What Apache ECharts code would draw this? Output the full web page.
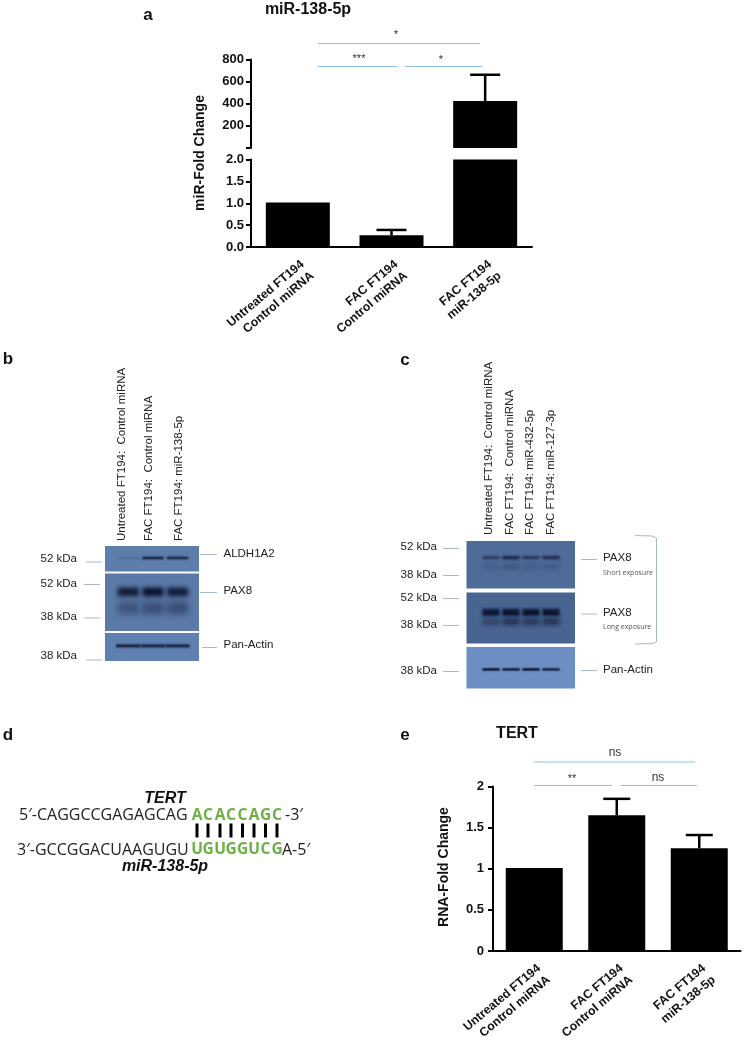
<!DOCTYPE html>
<html>
<head>
<meta charset="utf-8">
<title>miR-138-5p figure</title>
<style>
  html, body { margin: 0; padding: 0; background: #fff; }
  #chart { width: 744px; height: 1042px; }
</style>
<script src="https://cdn.jsdelivr.net/npm/echarts@6/dist/echarts.min.js"></script>
</head>
<body>
<div id="chart"></div>
<script>
// panel a
const miRCategories = ['Untreated FT194\nControl miRNA', 'FAC FT194\nControl miRNA', 'FAC FT194\nmiR-138-5p'];
const miRMeans = [1.02, 0.27, 425];
const miRErrorTops = [null, 0.39, 662];

// panel e
const tertCategories = ['Untreated FT194\nControl miRNA', 'FAC FT194\nControl miRNA', 'FAC FT194\nmiR-138-5p'];
const tertMeans = [1.01, 1.65, 1.25];
const tertErrorTops = [null, 1.85, 1.41];

// blot band strengths per lane, estimated by eye
const bAldh1a2 = [0.12, 0.95, 0.9];
const bPax8Upper = [0.9, 1, 0.9];
const bPax8Lower = [0.35, 0.42, 0.42];
const bActin = [0.95, 0.9, 0.9];
const cShortUpper = [0.55, 0.8, 0.6, 0.72];
const cShortLower = [0.18, 0.25, 0.2, 0.22];
const cLongUpper = [0.95, 1, 1, 1];
const cLongLower = [0.4, 0.6, 0.55, 0.6];
const cActin = [1, 0.95, 1, 0.9];

const bLanes = ['Untreated FT194:  Control miRNA', 'FAC FT194:  Control miRNA', 'FAC FT194: miR-138-5p'];
const cLanes = ['Untreated FT194:  Control miRNA', 'FAC FT194:  Control miRNA', 'FAC FT194: miR-432-5p', 'FAC FT194: miR-127-3p'];

const SANS = '"Liberation Sans", Arial, sans-serif';
const OPEN = '"Open Sans", sans-serif';
const SIG_BLUE = '#8dbfe3';
const MARK_BLUE = '#a9b8d2';
const OFFSCREEN = 3000;

const grids = [];
const xAxes = [];
const yAxes = [];
const series = [];
const graphics = [];

function text(x, y, str, font, extra) {
  graphics.push({
    type: 'text', x: x, y: y, rotation: (extra && extra.rotation) || 0, z: 5,
    style: {
      text: str, font: font,
      fill: (extra && extra.fill) || '#111',
      align: (extra && extra.align) || 'center',
      verticalAlign: 'middle'
    }
  });
}

function line(x1, y1, x2, y2, color, width) {
  graphics.push({
    type: 'line', z: 4,
    shape: { x1: x1, y1: y1, x2: x2, y2: y2 },
    style: { stroke: color, lineWidth: width || 1 }
  });
}

// T shaped error bar, goes through the same axes as the bars
function errorSeries(gridIndex, means, tops, capHalf) {
  const data = [];
  means.forEach((m, i) => {
    if (tops[i] != null) data.push([i, m, tops[i]]);
  });
  series.push({
    type: 'custom', xAxisIndex: gridIndex, yAxisIndex: gridIndex, z: 3, clip: false,
    data: data,
    renderItem(params, api) {
      const low = api.coord([api.value(0), api.value(1)]);
      const high = api.coord([api.value(0), api.value(2)]);
      const style = { stroke: '#000', lineWidth: 2.5, fill: null };
      return {
        type: 'group',
        children: [
          { type: 'line', shape: { x1: low[0], y1: low[1], x2: high[0], y2: high[1] }, style: style },
          { type: 'line', shape: { x1: high[0] - capHalf, y1: high[1], x2: high[0] + capHalf, y2: high[1] }, style: style }
        ]
      };
    }
  });
}

function barGrid(box, cats, yOpt, showX, labelMargin) {
  const idx = grids.length;
  grids.push(Object.assign({ outerBoundsMode: 'none' }, box));
  xAxes.push({
    gridIndex: idx, type: 'category', data: cats, show: showX,
    axisLine: { lineStyle: { color: '#000', width: 2 } },
    axisTick: { alignWithLabel: true, length: 6, lineStyle: { color: '#000', width: 2 } },
    axisLabel: {
      interval: 0, rotate: 40, margin: labelMargin, color: '#111',
      fontFamily: SANS, fontSize: 12.3, fontWeight: 'bold',
      align: 'right', verticalAlign: 'top', lineHeight: 15
    }
  });
  yAxes.push(Object.assign({
    gridIndex: idx, type: 'value', splitLine: { show: false },
    axisLine: { show: true, lineStyle: { color: '#000', width: 2 } },
    axisTick: { show: true, length: 5, lineStyle: { color: '#000', width: 2 } }
  }, yOpt));
  return idx;
}

// one row of blot bands: only the blurred shadow of an offscreen rect shows,
// so the band has no hard edge
function bandSeries(gridIndex, strengths, row) {
  series.push({
    type: 'custom', xAxisIndex: gridIndex, yAxisIndex: gridIndex, z: 2, silent: true, clip: false,
    data: strengths.map((v, i) => [i, row.y, v]),
    renderItem(params, api) {
      const c = api.coord([api.value(0), api.value(1)]);
      const w = api.size([1, 0])[0] * (row.w || 0.86);
      const col = 'rgba(12,20,48,' + api.value(2) + ')';
      return {
        type: 'rect',
        shape: { x: c[0] - w / 2 - OFFSCREEN, y: c[1] - row.h / 2, width: w, height: row.h },
        style: { fill: '#000', shadowBlur: row.blur, shadowColor: col, shadowOffsetX: OFFSCREEN }
      };
    }
  });
}

function blot(panel, inner, lanes, rows) {
  graphics.push({
    type: 'rect', z: 1,
    shape: { x: panel.x, y: panel.y, width: panel.w, height: panel.h },
    style: { fill: panel.fill }
  });
  const idx = grids.length;
  grids.push({ outerBoundsMode: 'none', left: inner.left, width: inner.width, top: panel.y, height: panel.h, show: false });
  xAxes.push({ gridIndex: idx, type: 'category', data: lanes, show: false });
  yAxes.push({ gridIndex: idx, type: 'value', min: 0, max: 1, inverse: true, show: false });
  rows.forEach(r => bandSeries(idx, r.values, r));
}

// panel a ---------------------------------------------------------
const aUpper = barGrid({ left: 251, width: 281, top: 59.5, height: 88.5 }, miRCategories, {
  min: 0, max: 800, interval: 200,
  axisLabel: { color: '#111', fontFamily: SANS, fontSize: 13, fontWeight: 'bold', margin: 7, formatter: v => (v === 0 ? '' : v) }
}, false, 7);
const aLower = barGrid({ left: 251, width: 281, top: 159.5, height: 87.5 }, miRCategories, {
  min: 0, max: 2, interval: 0.5,
  axisLabel: { color: '#111', fontFamily: SANS, fontSize: 13, fontWeight: 'bold', margin: 7, formatter: v => v.toFixed(1) }
}, true, 10);

series.push({
  type: 'bar', xAxisIndex: aUpper, yAxisIndex: aUpper, barWidth: 64, z: 2,
  itemStyle: { color: '#000' },
  data: miRMeans.map(v => (v > 2 ? v : null))
});
series.push({
  type: 'bar', xAxisIndex: aLower, yAxisIndex: aLower, barWidth: 64, z: 2, clip: true,
  itemStyle: { color: '#000' },
  data: miRMeans
});
errorSeries(aUpper, miRMeans.map(v => (v > 2 ? v : null)), miRErrorTops.map(v => (v > 2 ? v : null)), 15);
errorSeries(aLower, miRMeans.map(v => (v > 2 ? null : v)), miRErrorTops.map(v => (v > 2 ? null : v)), 15);

text(148, 15, 'a', 'bold 17px ' + SANS);
text(308, 9.5, 'miR-138-5p', 'bold 16px ' + SANS);
text(200, 153, 'miR-Fold Change', 'bold 14px ' + SANS, { rotation: Math.PI / 2 });
line(318, 43.5, 480, 43.5, SIG_BLUE);
line(318, 66.5, 397, 66.5, SIG_BLUE);
line(405, 66.5, 482, 66.5, SIG_BLUE);
text(396, 35, '*', '11px ' + SANS, { fill: '#333' });
text(359, 59, '***', '11px ' + SANS, { fill: '#333' });
text(441, 60, '*', '11px ' + SANS, { fill: '#333' });

// panel b ---------------------------------------------------------
text(8, 359, 'b', 'bold 17px ' + SANS);
blot({ x: 105, y: 546, w: 94, h: 25.5, fill: '#5d7dab' }, { left: 116, width: 74 }, bLanes, [
  { y: 0.47, h: 2.5, blur: 2, values: bAldh1a2 }
]);
blot({ x: 105, y: 573.5, w: 94, h: 57.5, fill: '#5b7aa8' }, { left: 116, width: 74 }, bLanes, [
  { y: 0.32, h: 9, blur: 4, values: bPax8Upper },
  { y: 0.6, h: 13, blur: 6, values: bPax8Lower }
]);
blot({ x: 105, y: 633, w: 94, h: 28, fill: '#5f80b0' }, { left: 116, width: 74 }, bLanes, [
  { y: 0.46, h: 3, blur: 2, w: 0.98, values: bActin }
]);
[121.5, 149, 178.5].forEach((x, i) => {
  text(x, 541, bLanes[i], '11.5px ' + SANS, { rotation: Math.PI / 2, align: 'left', fill: '#222' });
});
[[86, 102, 562], [84, 100, 584.5], [84, 100, 618], [86, 102, 660]].forEach(m => {
  line(m[0], m[2], m[1], m[2], MARK_BLUE);
});
text(40.5, 559, '52 kDa', '11.5px ' + SANS, { align: 'left', fill: '#222' });
text(40.5, 583.5, '52 kDa', '11.5px ' + SANS, { align: 'left', fill: '#222' });
text(40.5, 616.5, '38 kDa', '11.5px ' + SANS, { align: 'left', fill: '#222' });
text(40.5, 655.5, '38 kDa', '11.5px ' + SANS, { align: 'left', fill: '#222' });
line(200, 554.5, 217, 554.5, MARK_BLUE);
line(200, 592.5, 217, 592.5, MARK_BLUE);
line(202, 647.5, 217, 647.5, MARK_BLUE);
text(223.5, 554, 'ALDH1A2', '11.5px ' + SANS, { align: 'left', fill: '#222' });
text(223.5, 591, 'PAX8', '11.5px ' + SANS, { align: 'left', fill: '#222' });
text(223.5, 645, 'Pan-Actin', '11.5px ' + SANS, { align: 'left', fill: '#222' });

// panel c ---------------------------------------------------------
text(405, 360, 'c', 'bold 17px ' + SANS);
blot({ x: 466.5, y: 541, w: 108.5, h: 47.5, fill: '#4f6c99' }, { left: 481, width: 80 }, cLanes, [
  { y: 0.35, h: 3.5, blur: 2.5, values: cShortUpper },
  { y: 0.54, h: 5, blur: 4, values: cShortLower }
]);
blot({ x: 466.5, y: 592.5, w: 108.5, h: 51, fill: '#486491' }, { left: 481, width: 80 }, cLanes, [
  { y: 0.39, h: 7, blur: 3, values: cLongUpper },
  { y: 0.57, h: 7, blur: 4, values: cLongLower }
]);
blot({ x: 466.5, y: 647, w: 108.5, h: 41.5, fill: '#6c8ec2' }, { left: 481, width: 80 }, cLanes, [
  { y: 0.54, h: 2.5, blur: 1.5, values: cActin }
]);
[488.5, 509.5, 530, 550.5].forEach((x, i) => {
  text(x, 535, cLanes[i], '11.5px ' + SANS, { rotation: Math.PI / 2, align: 'left', fill: '#222' });
});
[[547, '52 kDa', 548.5], [574.5, '38 kDa', 575.5], [597.5, '52 kDa', 598.5], [624.5, '38 kDa', 625.5], [671, '38 kDa', 671.5]].forEach(m => {
  text(400.5, m[0], m[1], '11.5px ' + SANS, { align: 'left', fill: '#222' });
  line(443, m[2], 459, m[2], MARK_BLUE);
});
line(581, 559.5, 597, 559.5, MARK_BLUE);
line(581, 614, 597, 614, MARK_BLUE);
line(581, 670.5, 597, 670.5, MARK_BLUE);
text(603, 558, 'PAX8', '11.5px ' + SANS, { align: 'left', fill: '#222' });
text(603, 572.5, 'Short exposure', '7px ' + OPEN, { align: 'left', fill: '#555' });
text(603, 612.5, 'PAX8', '11.5px ' + SANS, { align: 'left', fill: '#222' });
text(603, 626.5, 'Long exposure', '7px ' + OPEN, { align: 'left', fill: '#555' });
text(603, 670, 'Pan-Actin', '11.5px ' + SANS, { align: 'left', fill: '#222' });
graphics.push({
  type: 'polyline', z: 4,
  shape: { points: [[635, 535.5], [652, 536], [656.5, 538], [656.5, 642], [652, 643.5], [635, 644]] },
  style: { stroke: MARK_BLUE, lineWidth: 1, fill: null }
});

// panel d ---------------------------------------------------------
const SEED_X = [197, 208, 220, 231, 242.5, 254, 265.5, 277];
const tertSeed = 'ACACCAGC';
const mirSeed = 'UGUGGUCG';
const GREEN = '#6cb044';
text(8, 735.5, 'd', 'bold 17px ' + SANS);
text(165, 798.5, 'TERT', 'italic bold 16px ' + SANS);
text(165, 866.5, 'miR-138-5p', 'italic bold 16px ' + SANS);
text(19, 815.5, '5\u2032-CAGGCCGAGAGCAG', '16px ' + OPEN, { align: 'left', fill: '#222' });
text(285, 815.5, '-3\u2032', '16px ' + OPEN, { align: 'left', fill: '#222' });
text(17, 850, '3\u2032-GCCGGACUAAGUGU', '16px ' + OPEN, { align: 'left', fill: '#222' });
text(282, 850, 'A-5\u2032', '16px ' + OPEN, { align: 'left', fill: '#222' });
SEED_X.forEach((x, i) => {
  text(x, 815.5, tertSeed[i], 'bold 15.5px ' + OPEN, { fill: GREEN });
  text(x, 850, mirSeed[i], 'bold 15.5px ' + OPEN, { fill: GREEN });
  graphics.push({ type: 'rect', z: 4, shape: { x: x - 1.5, y: 823.5, width: 3, height: 14 }, style: { fill: '#000' } });
});

// panel e ---------------------------------------------------------
const eMain = barGrid({ left: 493, width: 247.5, top: 786.5, height: 164.5 }, tertCategories, {
  min: 0, max: 2, interval: 0.5,
  axisLabel: { color: '#111', fontFamily: SANS, fontSize: 13, fontWeight: 'bold', margin: 9 }
}, true, 10);
series.push({
  type: 'bar', xAxisIndex: eMain, yAxisIndex: eMain, barWidth: 57, z: 2,
  itemStyle: { color: '#000' },
  data: tertMeans
});
errorSeries(eMain, tertMeans, tertErrorTops, 13.5);

text(405, 735, 'e', 'bold 17px ' + SANS);
text(517, 734, 'TERT', 'bold 16px ' + SANS);
text(444, 867, 'RNA-Fold Change', 'bold 14px ' + SANS, { rotation: Math.PI / 2 });
line(534, 762, 695, 762, SIG_BLUE);
line(534, 785.5, 612, 785.5, SIG_BLUE);
line(621, 785.5, 697, 785.5, SIG_BLUE);
text(615, 752.5, 'ns', '12px ' + SANS, { fill: '#333' });
text(572, 779, '**', '11px ' + SANS, { fill: '#333' });
text(658, 777.5, 'ns', '12px ' + SANS, { fill: '#333' });

const chart = echarts.init(document.getElementById('chart'), null, { renderer: 'canvas' });
chart.setOption({
  animation: false,
  backgroundColor: '#fff',
  textStyle: { fontFamily: SANS },
  grid: grids,
  xAxis: xAxes,
  yAxis: yAxes,
  series: series,
  graphic: { elements: graphics }
});
</script>
</body>
</html>
